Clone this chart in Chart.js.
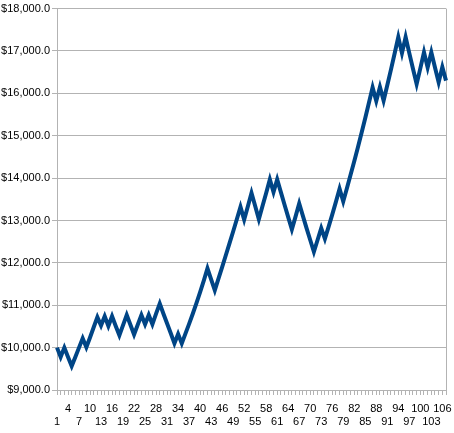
<!DOCTYPE html>
<html>
<head>
<meta charset="utf-8">
<script src="https://cdn.jsdelivr.net/npm/chart.js@4/dist/chart.umd.min.js"></script>
<style>
  body { margin: 0; background: #ffffff; }
  canvas { display: block; }
</style>
</head>
<body>
<canvas id="balanceChart" width="454" height="433"></canvas>
<script>
// values
var rounds = [];
for (var r = 1; r <= 107; r++) rounds.push(String(r));

var balance = [
  10000, 9780, 10000, 9780, 9565, 9780, 10000, 10220, 10010, 10240,
  10480, 10720, 10520, 10740, 10510, 10740, 10510, 10290, 10530, 10770,
  10540, 10310, 10540, 10770, 10550, 10770, 10550, 10800, 11040, 10800,
  10570, 10340, 10100, 10320, 10100, 10330, 10560, 10800, 11050, 11310,
  11580, 11870, 11610, 11355, 11630, 11900, 12180, 12460, 12740, 13030,
  13320, 13020, 13330, 13650, 13340, 13030, 13340, 13650, 13970, 13670,
  13970, 13670, 13370, 13080, 12790, 13090, 13400, 13110, 12820, 12540,
  12260, 12540, 12820, 12570, 12850, 13140, 13440, 13750, 13450, 13760,
  14080, 14400, 14730, 15070, 15420, 15780, 16140, 15820, 16150, 15830,
  16190, 16560, 16940, 17330, 16950, 17330, 16950, 16580, 16220, 16590,
  16970, 16610, 16970, 16610, 16260, 16620, 16300
];

var yMin = 9000;
var yMax = 18000;
var yStep = 1000;

var gridGray = "#b3b3b3";
var lineBlue = "#004586";

function moneyLabel(v) {
  return "$" + v.toLocaleString("en-US", { minimumFractionDigits: 1, maximumFractionDigits: 1 });
}

new Chart(document.getElementById("balanceChart"), {
  type: "line",
  data: {
    labels: rounds,
    datasets: [{
      data: balance,
      borderColor: lineBlue,
      borderWidth: 4,
      pointRadius: 0,
      tension: 0,
      fill: false
    }]
  },
  options: {
    responsive: false,
    animation: false,
    layout: { padding: { top: 8, right: 8, left: 0, bottom: 0 } },
    plugins: {
      legend: { display: false },
      tooltip: { enabled: false }
    },
    scales: {
      x: {
        offset: false,
        border: { color: gridGray, width: 1 },
        grid: {
          drawOnChartArea: true,
          color: function (ctx) { return ctx.index === rounds.length - 1 ? gridGray : "rgba(0,0,0,0)"; },
          tickColor: gridGray,
          tickLength: 5
        },
        ticks: {
          autoSkip: false,
          maxRotation: 0,
          padding: 7,
          color: "#000000",
          font: { family: "Liberation Sans", size: 11 },
          callback: function (value, index) {
            if (index % 6 === 0) return ["", rounds[index]];
            if (index % 6 === 3) return [rounds[index]];
            return "";
          }
        },
        afterFit: function (scale) { scale.height = 43; }
      },
      y: {
        min: yMin,
        max: yMax,
        border: { color: gridGray, width: 1 },
        grid: { color: gridGray, tickColor: gridGray, tickLength: 5 },
        ticks: {
          stepSize: yStep,
          padding: 2,
          color: "#000000",
          font: { family: "Liberation Sans", size: 11 },
          callback: function (v) { return moneyLabel(v); }
        },
        afterFit: function (scale) { scale.width = 57; }
      }
    }
  }
});
</script>
</body>
</html>
